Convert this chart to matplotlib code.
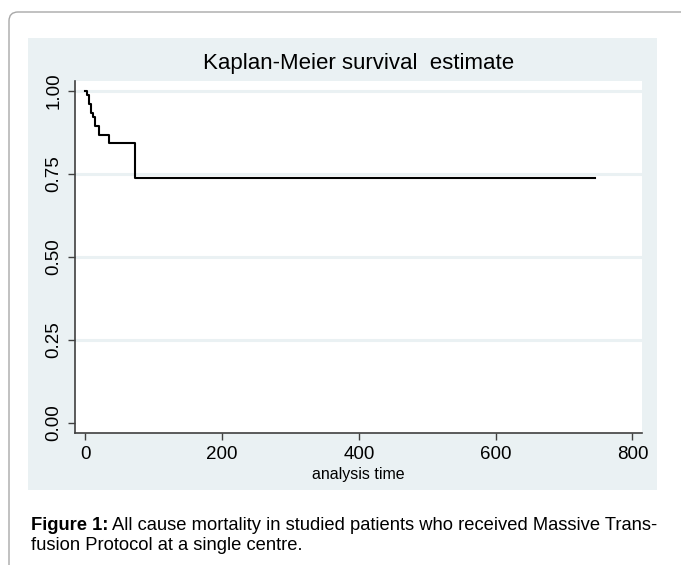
import matplotlib
matplotlib.use("Agg")
import matplotlib.pyplot as plt
from matplotlib.patches import Rectangle, FancyBboxPatch
from matplotlib.transforms import IdentityTransform

plt.rcParams['font.family'] = ['Liberation Sans', 'DejaVu Sans']

# Kaplan-Meier step data
times = [0, 2, 5, 8, 11, 14, 20, 34, 72, 745]
surv = [1.0, 0.987, 0.961, 0.934, 0.921, 0.895, 0.868, 0.842, 0.737, 0.737]
yticks = [0.00, 0.25, 0.50, 0.75, 1.00]
ytick_labels = ['0.00', '0.25', '0.50', '0.75', '1.00']
xticks = [0, 200, 400, 600, 800]

W, H = 681, 565
bg = '#eaf1f3'

fig = plt.figure(figsize=(W / 100, H / 100), dpi=100)

# card border (rounded corner at top left)
frame = FancyBboxPatch((9, -30), 720, H - 12 + 30,
                       boxstyle="round,pad=0,rounding_size=9",
                       transform=IdentityTransform(), facecolor='white',
                       edgecolor='#a8a8a8', linewidth=1.0, zorder=-3)
fig.patches.append(frame)

# Stata graph region
region = Rectangle((28 / W, 1 - 490 / H), (657 - 28) / W, (490 - 38) / H,
                   transform=fig.transFigure, facecolor=bg, edgecolor='none',
                   zorder=-2)
fig.patches.append(region)

ax = fig.add_axes([74.7 / W, 1 - 432.7 / H, (642 - 74.7) / W, (432.7 - 81) / H])
ax.set_facecolor('white')

for y in yticks[1:]:
    ax.axhline(y, color=bg, lw=2.2, zorder=1)

ax.step(times, surv, where='post', color='black', lw=1.5, zorder=3)

ax.set_xlim(-15.6, 814)
ax.set_ylim(-0.029, 1.030)
ax.set_xticks(xticks)
ax.set_yticks(yticks)
ax.set_yticklabels(ytick_labels, rotation=90, va='center')
ax.tick_params(axis='both', direction='out', length=4.8, width=1.0,
               color='#404040', labelsize=13.5)
ax.tick_params(axis='y', pad=4)
ax.tick_params(axis='x', pad=5)
for side in ['top', 'right']:
    ax.spines[side].set_visible(False)
for side in ['left', 'bottom']:
    ax.spines[side].set_color('#404040')
    ax.spines[side].set_linewidth(1.2)

ax.set_xlabel('analysis time', fontsize=11.5, labelpad=3)
ax.set_title('Kaplan-Meier survival  estimate', fontsize=16, pad=9)

# caption
cap_size = 13.2
t1 = fig.text(31 / W, 1 - 530 / H, 'Figure 1:', fontsize=cap_size,
              fontweight='bold', va='baseline')
fig.canvas.draw()
bb = t1.get_window_extent()
fig.text(bb.x1 / W + 4 / W, 1 - 530 / H,
         'All cause mortality in studied patients who received Massive Trans-',
         fontsize=cap_size, va='baseline')
fig.text(31 / W, 1 - 550 / H, 'fusion Protocol at a single centre.',
         fontsize=cap_size, va='baseline')

fig.savefig('out.png', dpi=100)
